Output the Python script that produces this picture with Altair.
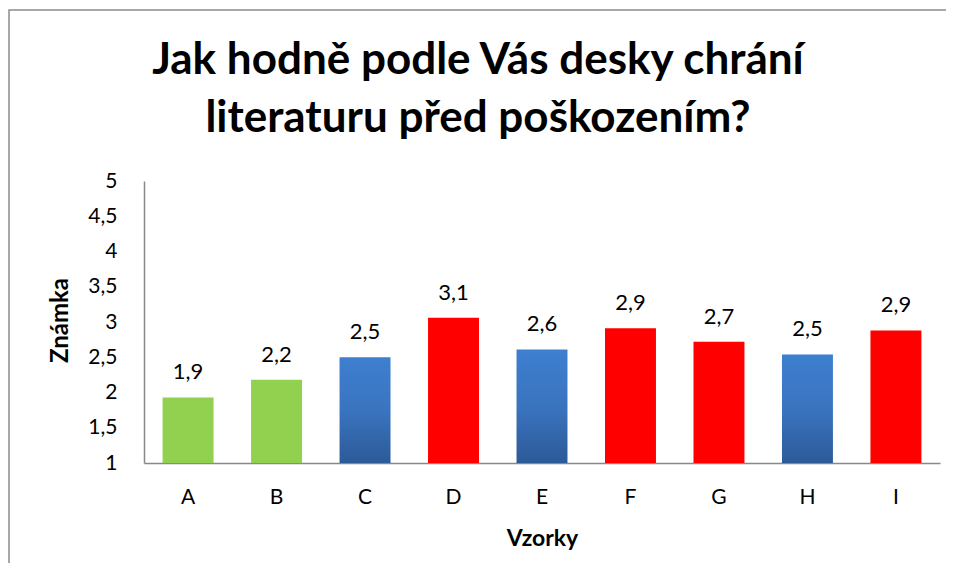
import altair as alt
import pandas as pd

samples = ["A", "B", "C", "D", "E", "F", "G", "H", "I"]
values = [1.93, 2.18, 2.50, 3.06, 2.61, 2.91, 2.72, 2.54, 2.88]
groups = ["green", "green", "blue", "red", "blue", "red", "red", "blue", "red"]
y_ticks = [1, 1.5, 2, 2.5, 3, 3.5, 4, 4.5, 5]

df = pd.DataFrame({"Vzorky": samples, "Známka": values, "group": groups})

FONT = "Lato"
AXIS_GREY = "#898989"

base = alt.Chart(df)

x_enc = alt.X(
    "Vzorky:N",
    sort=samples,
    scale=alt.Scale(paddingInner=0.424, paddingOuter=0.21),
    axis=alt.Axis(
        title="Vzorky",
        labelAngle=0,
        labelFontSize=21,
        labelPadding=23,
        ticks=False,
        domainColor=AXIS_GREY,
        domainWidth=1.5,
        titleFontSize=23,
        titleFontWeight="bold",
        titlePadding=20,
    ),
)
y_enc = alt.Y(
    "Známka:Q",
    scale=alt.Scale(domain=[1, 5], zero=False, nice=False),
    axis=alt.Axis(
        values=y_ticks,
        format=".1~f",
        labelExpr="replace(datum.label, '.', ',')",
        labelOverlap=False,
        labelFontSize=21,
        labelPadding=27,
        ticks=False,
        grid=False,
        domainColor=AXIS_GREY,
        domainWidth=1.5,
        title="Známka",
        titleFontSize=24,
        titleFontWeight="bold",
        titleX=-84,
        titleY=139,
        titleAngle=-90,
        titleBaseline="middle",
        titleAlign="center",
    ),
)

flat_bars = base.transform_filter("datum.group != 'blue'").mark_bar().encode(
    x=x_enc,
    y=y_enc,
    y2=alt.datum(1),
    color=alt.Color(
        "group:N",
        scale=alt.Scale(domain=["green", "red"], range=["#92D050", "#FF0000"]),
        legend=None,
    ),
)

blue_bars = base.transform_filter("datum.group == 'blue'").mark_bar(
    color=alt.Gradient(
        gradient="linear",
        stops=[
            alt.GradientStop(color="#3E7FD0", offset=0),
            alt.GradientStop(color="#3A74BF", offset=0.5),
            alt.GradientStop(color="#2C5A98", offset=1),
        ],
        x1=0, x2=0, y1=0, y2=1,
    )
).encode(x=x_enc, y=y_enc, y2=alt.datum(1))

labels = base.transform_calculate(
    lbl="replace(format(datum['Známka'], '.1f'), '.', ',')"
).mark_text(fontSize=22, baseline="alphabetic", dy=-18, color="#000000").encode(
    x=x_enc,
    y=y_enc,
    text="lbl:N",
)

frame = alt.Chart(pd.DataFrame({"f": [0]})).mark_rect(
    fill=None, stroke="#8C8C8C", strokeWidth=1.5
).encode(
    x=alt.value(-135), x2=alt.value(830),
    y=alt.value(-171), y2=alt.value(430),
)

chart = alt.layer(frame, flat_bars, blue_bars, labels).properties(
    width=796,
    height=282,
    autosize=alt.AutoSizeParams(type="none"),
    padding={"left": 136, "top": 173, "right": 6, "bottom": 100},
    title=alt.TitleParams(
        text=["Jak hodně podle Vás desky chrání", "literaturu před poškozením?"],
        fontSize=44,
        fontWeight="bold",
        font=FONT,
        color="#000000",
        anchor="middle",
        frame="group",
        dx=-64,
        dy=154,
        lineHeight=58,
        offset=22,
    ),
).configure(font=FONT).configure_axis(
    labelFont=FONT, titleFont=FONT, labelColor="#000000", titleColor="#000000"
).configure_view(stroke=None)

chart.save("out.html", embed_options={"renderer": "svg", "actions": False})
